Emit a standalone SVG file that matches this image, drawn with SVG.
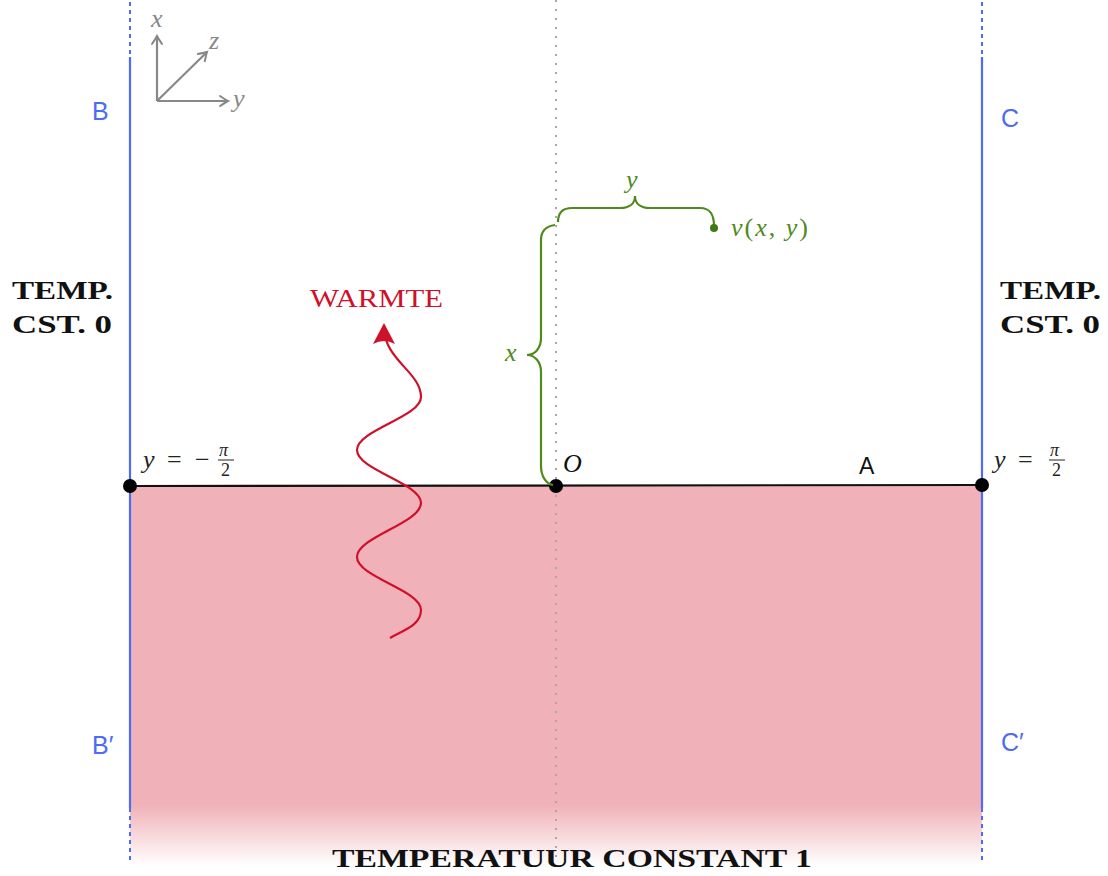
<svg xmlns="http://www.w3.org/2000/svg" width="1108" height="876" viewBox="0 0 1108 876">
<style>
.blue{stroke:#4d6bf5;stroke-width:2.2;fill:none}
.bdot{stroke:#4d6bf5;stroke-width:2;stroke-dasharray:4 4;fill:none}
.lbl{font-family:"Liberation Sans",Arial,sans-serif;font-size:25px;fill:#4d6bf5}
.bold{font-family:"Liberation Serif","Times New Roman",serif;font-weight:bold;font-size:25px;fill:#111}
.math{font-family:"Liberation Serif","Times New Roman",serif;font-style:italic;font-size:26px}
.rm{font-family:"Liberation Serif","Times New Roman",serif;font-size:26px}
.small{font-family:"Liberation Serif","Times New Roman",serif;font-size:18px}
.green{stroke:#4f8a1b;stroke-width:2.2;fill:none}
.axis{stroke:#888;stroke-width:2.2;fill:none}
</style>
<defs>
<linearGradient id="pinkfade" x1="0" y1="486" x2="0" y2="866" gradientUnits="userSpaceOnUse">
<stop offset="0" stop-color="#f0b2b8"/>
<stop offset="0.84" stop-color="#f0b2b8"/>
<stop offset="1" stop-color="#f0b2b8" stop-opacity="0"/>
</linearGradient>
<marker id="axarrow" markerWidth="14" markerHeight="14" refX="11" refY="7" orient="auto" markerUnits="userSpaceOnUse">
<path d="M3 2 Q9 6 11 7 Q9 8 3 12" fill="none" stroke="#888" stroke-width="2" stroke-linecap="round"/>
</marker>
<marker id="redarrow" markerWidth="26" markerHeight="26" refX="19" refY="13" orient="auto" markerUnits="userSpaceOnUse">
<path d="M23 13 L2 2 Q8 13 2 24 Z" fill="#d0102a"/>
</marker>
</defs>

<g id="region">
<rect x="130" y="486" width="852" height="380" fill="url(#pinkfade)"/>
</g>

<g id="connectors">
<line x1="556" y1="0" x2="556" y2="864" stroke="#a8a8a8" stroke-width="2" stroke-dasharray="2 7"/>
<line class="bdot" x1="130" y1="2" x2="130" y2="57"/>
<line class="blue" x1="130" y1="57" x2="130" y2="808"/>
<line class="bdot" x1="130" y1="808" x2="130" y2="864"/>
<line class="bdot" x1="982" y1="2" x2="982" y2="57"/>
<line class="blue" x1="982" y1="57" x2="982" y2="808"/>
<line class="bdot" x1="982" y1="808" x2="982" y2="864"/>
<line x1="130" y1="486" x2="982" y2="485" stroke="#111" stroke-width="2.2"/>
<path d="M390 638 C404 630 421 625 421 610 C421 590 357 577 357 557 C357 537 421 523 421 503 C421 483 357 470 357 450 C357 430 421 417 421 397 C421 372 384 360 384 327" fill="none" stroke="#d0102a" stroke-width="2.2" marker-end="url(#redarrow)"/>
</g>

<g id="axes">
<line class="axis" x1="157" y1="101" x2="157" y2="36" marker-end="url(#axarrow)"/>
<line class="axis" x1="157" y1="101" x2="228" y2="101" marker-end="url(#axarrow)"/>
<line class="axis" x1="157" y1="101" x2="207" y2="52" marker-end="url(#axarrow)"/>
<text class="math" x="151" y="27" fill="#888" font-size="23">x</text>
<text class="math" x="209" y="49" fill="#888" font-size="23">z</text>
<text class="math" x="233" y="107" fill="#888" font-size="23">y</text>
</g>

<g id="labels-blue">
<text class="lbl" x="92" y="120">B</text>
<text class="lbl" x="1001" y="127">C</text>
<text class="lbl" x="92" y="754">B′</text>
<text class="lbl" x="1001" y="751">C′</text>
</g>

<g id="temp-left">
<text class="bold" x="12" y="299" textLength="101" lengthAdjust="spacingAndGlyphs">TEMP.</text>
<text class="bold" x="12" y="333" textLength="100" lengthAdjust="spacingAndGlyphs">CST. 0</text>
</g>
<g id="temp-right">
<text class="bold" x="1000" y="299" textLength="101" lengthAdjust="spacingAndGlyphs">TEMP.</text>
<text class="bold" x="1000" y="333" textLength="100" lengthAdjust="spacingAndGlyphs">CST. 0</text>
</g>
<g id="temp-bottom">
<text class="bold" x="332" y="867" textLength="480" lengthAdjust="spacingAndGlyphs">TEMPERATUUR CONSTANT 1</text>
</g>

<g id="warmte">
<text class="rm" x="310" y="307" fill="#d0102a" textLength="133" lengthAdjust="spacingAndGlyphs">WARMTE</text>
</g>

<g id="points">
<circle cx="130" cy="486" r="7" fill="#000"/>
<circle cx="556" cy="486" r="7" fill="#000"/>
<circle cx="982" cy="485" r="7" fill="#000"/>
<text class="math" x="563" y="472" fill="#111">O</text>
<text x="859" y="474" font-family="'Liberation Sans',Arial,sans-serif" font-size="23" fill="#111">A</text>
</g>

<g id="y-minus">
<text class="math" x="143" y="468" fill="#222">y</text>
<text class="rm" x="167" y="468" fill="#222">=</text>
<text class="rm" x="195" y="468" fill="#222">−</text>
<text class="small" x="219" y="456" font-style="italic" fill="#222">π</text>
<line x1="218" y1="460" x2="234" y2="460" stroke="#222" stroke-width="1"/>
<text class="small" x="221" y="476" fill="#222">2</text>
</g>
<g id="y-plus">
<text class="math" x="994" y="468" fill="#222">y</text>
<text class="rm" x="1018" y="468" fill="#222">=</text>
<text class="small" x="1050" y="456" font-style="italic" fill="#222">π</text>
<line x1="1049" y1="460" x2="1065" y2="460" stroke="#222" stroke-width="1"/>
<text class="small" x="1052" y="476" fill="#222">2</text>
</g>

<g id="braces">
<path class="green" d="M553 485 C546 484 541 476 541 466 L541 372 C541 362 535 355 527 355 C535 355 541 348 541 338 L541 240 C541 230 547 226 555 225"/>
<path class="green" d="M558 222 C558 213 562 208 572 208 L620 208 C630 208 635 203 635 196 C635 203 640 208 650 208 L700 208 C710 208 714 214 714 226"/>
<circle cx="714" cy="228" r="4" fill="#3f7a12"/>
<text class="math" x="505" y="361" fill="#4f8a1b">x</text>
<text class="math" x="626" y="188" fill="#4f8a1b">y</text>
<text class="math" x="731" y="236" fill="#4f8a1b" textLength="77" lengthAdjust="spacing">v<tspan font-style="normal">(</tspan>x<tspan font-style="normal">, </tspan>y<tspan font-style="normal">)</tspan></text>
</g>
</svg>
